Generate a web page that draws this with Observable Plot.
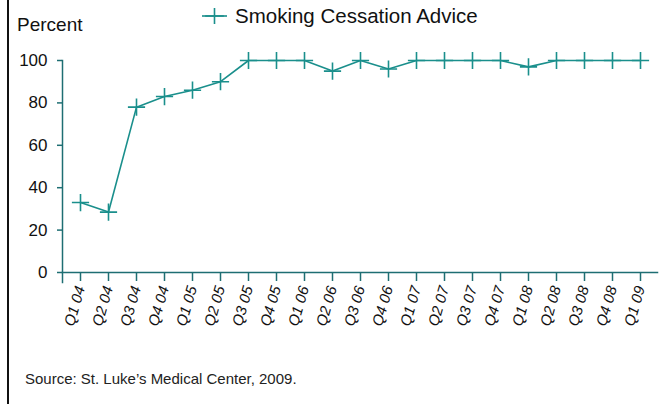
<!DOCTYPE html>
<html>
<head>
<meta charset="utf-8">
<script src="https://cdn.jsdelivr.net/npm/d3@7"></script>
<script src="https://cdn.jsdelivr.net/npm/@observablehq/plot@0.6"></script>
<style>
  html, body { margin: 0; padding: 0; background: #fff; }
  #wrap { position: relative; width: 665px; height: 404px; overflow: hidden; font-family: "Liberation Sans", Arial, sans-serif; }
  #border { position: absolute; left: 7px; top: 0; width: 2px; height: 404px; background: #111; }
  #legend { position: absolute; left: 201px; top: 4px; display: flex; align-items: center; font-size: 20.5px; color: #111; }
  #legend svg { margin-right: 7px; }
  #ylabel { position: absolute; left: 17px; top: 14px; font-size: 19px; color: #111; }
  #source { position: absolute; left: 25px; top: 370px; font-size: 15px; color: #222; }
  #chart { position: absolute; left: 0; top: 0; }
</style>
</head>
<body>
<div id="wrap">
  <div id="chart"></div>
  <div id="border"></div>
  <div id="legend"></div>
  <div id="ylabel">Percent</div>
  <div id="source">Source: St. Luke’s Medical Center, 2009.</div>
</div>
<script>
const quarters = ["Q1 04","Q2 04","Q3 04","Q4 04","Q1 05","Q2 05","Q3 05","Q4 05","Q1 06","Q2 06","Q3 06","Q4 06","Q1 07","Q2 07","Q3 07","Q4 07","Q1 08","Q2 08","Q3 08","Q4 08","Q1 09"];
const advice = [33, 28.5, 78, 83, 86, 90, 100, 100, 100, 95, 100, 96, 100, 100, 100, 100, 97, 100, 100, 100, 100];
const yTicks = [0, 20, 40, 60, 80, 100];
const seriesName = "Smoking Cessation Advice";

const lineColor = "#1a8f8c";
const axisColor = "#1e6e73";

const data = quarters.map((q, i) => ({quarter: q, value: advice[i]}));

const chart = Plot.plot({
  width: 665,
  height: 404,
  marginTop: 60,
  marginBottom: 132,
  marginLeft: 62,
  marginRight: 8,
  style: {fontFamily: "'Liberation Sans', Arial, sans-serif", background: "transparent"},
  x: {type: "point", domain: quarters, padding: 0.53},
  y: {domain: [0, 100]},
  marks: [
    Plot.frame({anchor: "left", stroke: axisColor, strokeWidth: 1.5, insetBottom: -10}),
    Plot.frame({anchor: "bottom", stroke: axisColor, strokeWidth: 1.5}),
    Plot.axisY({ticks: yTicks, tickSize: 5, tickPadding: 10, stroke: axisColor, strokeWidth: 1.5, fill: "#111", fontSize: 17, label: null}),
    Plot.axisX({tickSize: 9, tickPadding: 5, tickRotate: -74, stroke: axisColor, strokeWidth: 1.5, fill: "#111", fontSize: 15, fontStyle: "italic", label: null}),
    Plot.line(data, {x: "quarter", y: "value", stroke: lineColor, strokeWidth: 1.6}),
    Plot.dot(data, {x: "quarter", y: "value", symbol: "plus", r: 5.6, stroke: lineColor, strokeWidth: 1.6})
  ]
});
document.getElementById("chart").appendChild(chart);

// legend
const leg = document.getElementById("legend");
const sw = d3.create("svg").attr("width", 27).attr("height", 16);
sw.append("line").attr("x1", 1).attr("x2", 26).attr("y1", 8).attr("y2", 8).attr("stroke", lineColor).attr("stroke-width", 1.6);
sw.append("path").attr("transform", "translate(13.5,8)").attr("d", d3.symbol(d3.symbolPlus, 115)()).attr("stroke", lineColor).attr("stroke-width", 1.6).attr("fill", "none");
leg.appendChild(sw.node());
const t = document.createElement("span");
t.textContent = seriesName;
leg.appendChild(t);
</script>
</body>
</html>
